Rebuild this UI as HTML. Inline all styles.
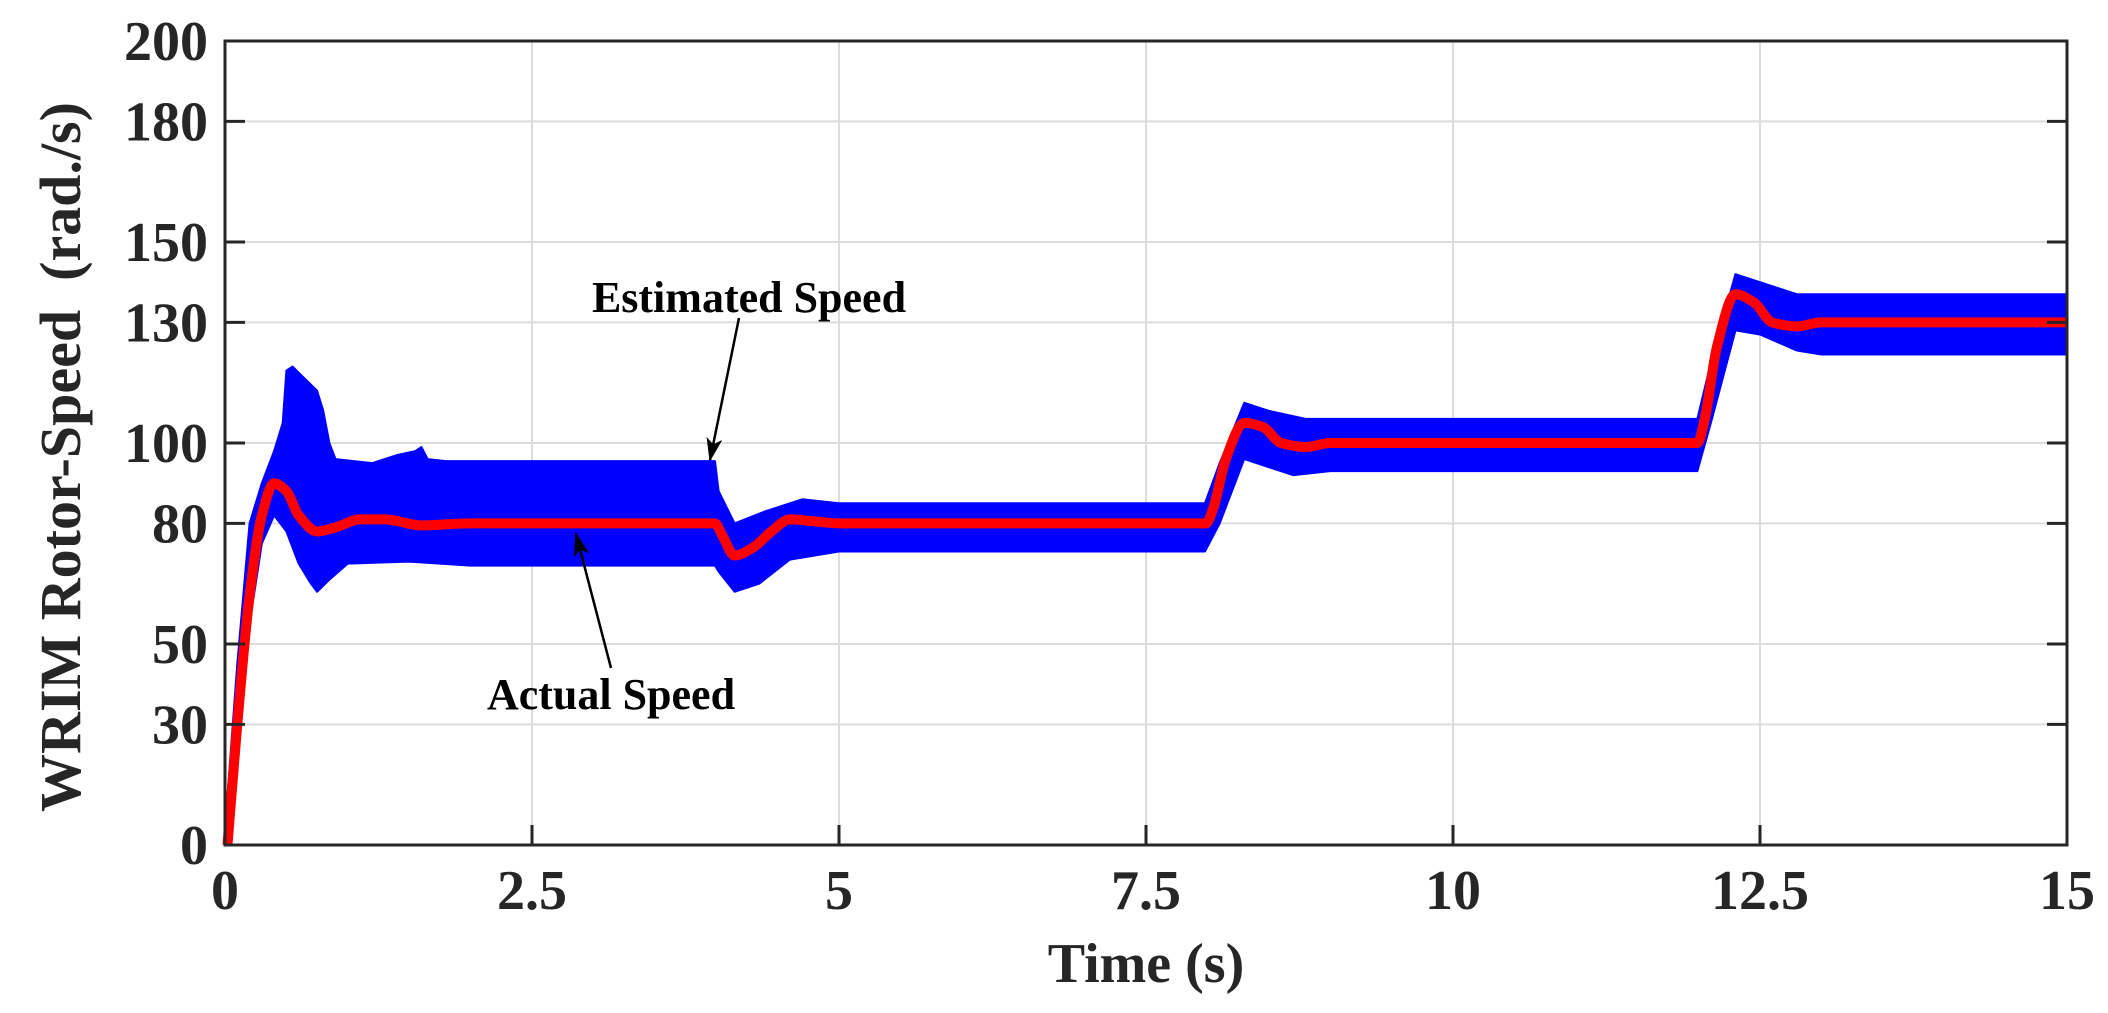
<!DOCTYPE html>
<html><head><meta charset="utf-8"><style>
html,body{margin:0;padding:0;background:#fff;}
svg{display:block;font-family:"Liberation Serif",serif;font-weight:bold;}
</style></head><body>
<svg id="chart" width="2108" height="1013" viewBox="0 0 2108 1013" xmlns="http://www.w3.org/2000/svg">
<g id="grid"></g>
<g id="series"></g>
<g id="axes"></g>
<text x="0" y="0" font-size="58" fill="#262626" text-anchor="middle" transform="translate(80,457) rotate(-90)" xml:space="preserve">WRIM Rotor-Speed  (rad./s)</text>
<text x="1146" y="982" font-size="56" fill="#262626" text-anchor="middle">Time (s)</text>
<text x="749" y="312" font-size="44" fill="#000" text-anchor="middle">Estimated Speed</text>
<text x="611" y="709" font-size="44" fill="#000" text-anchor="middle">Actual Speed</text>
<defs><marker id="ah" markerWidth="24" markerHeight="16" refX="22" refY="8" orient="auto" markerUnits="userSpaceOnUse" viewBox="0 0 24 16"><path d="M0,0 L24,8 L0,16 L6,8 z" fill="#000"/></marker></defs>
<line x1="739" y1="318" x2="710" y2="460" stroke="#000" stroke-width="2.5" marker-end="url(#ah)"/>
<line x1="611" y1="668" x2="576" y2="534" stroke="#000" stroke-width="2.5" marker-end="url(#ah)"/>
</svg>
<script>
const xTicks=[0,2.5,5,7.5,10,12.5,15];
const xTickLabels=["0","2.5","5","7.5","10","12.5","15"];
const yTicks=[0,30,50,80,100,130,150,180,200];
const yTickLabels=["0","30","50","80","100","130","150","180","200"];
const actualT=[0.02,0.1,0.2,0.3,0.4,0.5,0.6,0.75,0.9,1.1,1.3,1.6,2,3,3.99,4.05,4.15,4.3,4.45,4.6,4.8,5,7.99,8.05,8.15,8.3,8.45,8.6,8.8,9,11.99,12.05,12.15,12.3,12.45,12.6,12.8,13,15];
const actualV=[0,30,62,82,90,88,82,78,79,81,81,79.5,80,80,80,77,72,74,78,81,80.5,80,80,84,96,105,104,100,99,100,100,106,124,137,135,130,129,130,130];
const upperT=[0,0.01,0.1,0.2,0.3,0.4,0.47,0.5,0.55,0.65,0.75,0.8,0.85,0.9,1.2,1.4,1.55,1.6,1.65,1.8,2,3,3.99,4.02,4.15,4.4,4.7,5,7.98,8.1,8.3,8.5,8.8,9,11.99,12.1,12.3,12.5,12.8,13,15];
const upperV=[0,8,45,80,90,98,105,118,119,116,113,108,100,96,95,97,98,99,96,95.5,95.5,95.5,95.5,88,80,83,86,85,85,95,110,108,106,106,106,120,142,140,137,137,137];
const lowerT=[0,0.1,0.2,0.3,0.4,0.5,0.6,0.7,0.75,0.85,1,1.5,2,3.99,4.02,4.15,4.35,4.6,5,7.98,8.1,8.3,8.5,8.7,9,11.99,12.1,12.3,12.5,12.8,13,15];
const lowerV=[0,25,55,75,82,78,70,65,63,66,70,70.5,69.5,69.5,68,63,65,71,73,73,80,96,94,92,93,93,105,128,127,123,122,122];

const X0=225,X1=2067,Y0=845,Y1=41;
const sx=t=>X0+(t-0)/(15-0)*(X1-X0);
const sy=v=>Y0-(v-0)/(200-0)*(Y0-Y1);
const NS="http://www.w3.org/2000/svg";
function mk(tag,attrs,parent){const e=document.createElementNS(NS,tag);for(const k in attrs)e.setAttribute(k,attrs[k]);parent.appendChild(e);return e;}
function monotone(P){
  const n=P.length,d=[],m=[];
  for(let i=0;i<n-1;i++)d.push((P[i+1][1]-P[i][1])/(P[i+1][0]-P[i][0]));
  m[0]=d[0];m[n-1]=d[n-2];
  for(let i=1;i<n-1;i++){m[i]=(d[i-1]*d[i]<=0)?0:2/(1/d[i-1]+1/d[i]);}
  let s='M'+P[0][0]+','+P[0][1];
  for(let i=0;i<n-1;i++){const dx=(P[i+1][0]-P[i][0])/3;
    s+=' C'+(P[i][0]+dx)+','+(P[i][1]+m[i]*dx)+' '+(P[i+1][0]-dx)+','+(P[i+1][1]-m[i+1]*dx)+' '+P[i+1][0]+','+P[i+1][1];}
  return s;
}
const grid=document.getElementById('grid'),axes=document.getElementById('axes'),series=document.getElementById('series');
xTicks.forEach((t,i)=>{
  const g=mk('line',{x1:sx(t),x2:sx(t),y1:Y1,y2:Y0,stroke:'#dcdcdc','stroke-width':2},grid);
  
  
  const tk=mk('line',{x1:sx(t),x2:sx(t),y1:Y0,y2:Y0-20,stroke:'#262626','stroke-width':3},axes);
  
  
  const tx=mk('text',{x:sx(t),y:909,'font-size':56,fill:'#262626','text-anchor':'middle'},axes);
  tx.textContent=xTickLabels[i];
  
  
});
yTicks.forEach((v,i)=>{
  const g=mk('line',{x1:X0,x2:X1,y1:sy(v),y2:sy(v),stroke:'#dcdcdc','stroke-width':2},grid);
  
  
  const tk=mk('line',{x1:X0,x2:X0+20,y1:sy(v),y2:sy(v),stroke:'#262626','stroke-width':3},axes);
  
  
  const tk2=mk('line',{x1:X1,x2:X1-20,y1:sy(v),y2:sy(v),stroke:'#262626','stroke-width':3},axes);
  
  
  const tx=mk('text',{x:208,y:sy(v)+19,'font-size':56,fill:'#262626','text-anchor':'end'},axes);
  tx.textContent=yTickLabels[i];
  
  
});
const box=mk('rect',{x:X0,y:Y1,width:X1-X0,height:Y0-Y1,fill:'none',stroke:'#262626','stroke-width':3},axes);


let pts=[];
upperT.forEach((t,i)=>pts.push(sx(t)+','+sy(upperV[i])));
for(let i=lowerT.length-1;i>=0;i--)pts.push(sx(lowerT[i])+','+sy(lowerV[i]));
const band=mk('polygon',{points:pts.join(' '),fill:'#0000ff',stroke:'#0000ff','stroke-width':2,'stroke-linejoin':'round'},series);


const red=mk('path',{d:monotone(actualT.map((t,i)=>[sx(t),sy(actualV[i])])),fill:'none',stroke:'#ff0000','stroke-width':10,'stroke-linejoin':'round'},series);


</script>
</body></html>
